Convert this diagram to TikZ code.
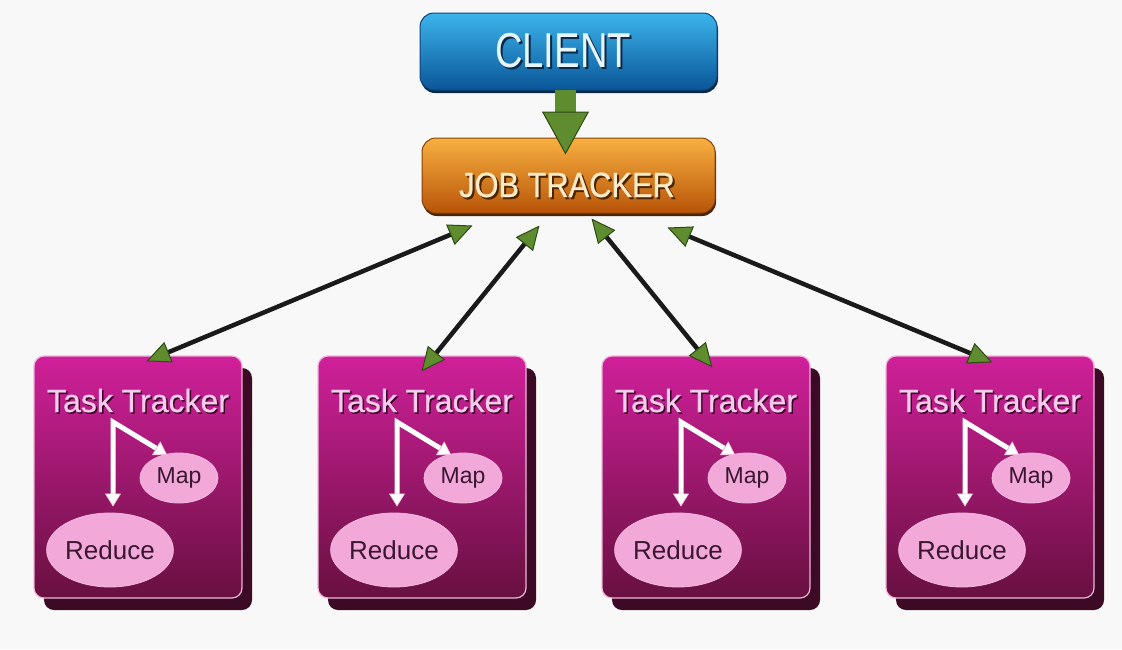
\documentclass[tikz,border=0pt]{standalone}
\usepackage{fontspec}
\setmainfont{Liberation Sans}
\newfontfamily\heavysans[FakeBold=0.7]{Liberation Sans}
\usepackage{graphicx}
\usetikzlibrary{arrows.meta,calc,shapes.geometric,shadows}

\definecolor{bg}{HTML}{F8F8F8}
\definecolor{clTop}{HTML}{3CB4EC}
\definecolor{clMid}{HTML}{1888D2}
\definecolor{clBot}{HTML}{0A5698}
\definecolor{clEdge}{HTML}{0B4478}
\definecolor{clShadow}{HTML}{0A2848}
\definecolor{clText}{HTML}{E6F4FB}
\definecolor{jtTop}{HTML}{F8B040}
\definecolor{jtMid}{HTML}{E88820}
\definecolor{jtBot}{HTML}{B85408}
\definecolor{jtEdge}{HTML}{8A4206}
\definecolor{jtShadow}{HTML}{4A2404}
\definecolor{jtText}{HTML}{FCEBC8}
\definecolor{ttTop}{HTML}{D0209A}
\definecolor{ttMid}{HTML}{A31870}
\definecolor{ttBot}{HTML}{681040}
\definecolor{ttRim}{HTML}{F0B4DA}
\definecolor{ttShadow}{HTML}{3C0A24}
\definecolor{ttText}{HTML}{F8CAEC}
\definecolor{txtShade}{HTML}{3A0626}
\definecolor{ovFill}{HTML}{F2A8D8}
\definecolor{ovText}{HTML}{3A1630}
\definecolor{grn}{HTML}{5E8C2E}
\definecolor{grnDark}{HTML}{2C4A14}
\definecolor{wire}{HTML}{1A1A1A}

\tikzset{
  clientbox/.style={rounded corners=14pt, minimum width=297pt, minimum height=77pt,
    top color=clTop, middle color=clMid, bottom color=clBot, draw=clEdge, line width=1pt,
    drop shadow={shadow xshift=1pt, shadow yshift=-3pt, fill=clShadow, opacity=1}},
  jobbox/.style={rounded corners=14pt, minimum width=293pt, minimum height=75pt,
    top color=jtTop, middle color=jtMid, bottom color=jtBot, draw=jtEdge, line width=1pt,
    drop shadow={shadow xshift=1pt, shadow yshift=-3pt, fill=jtShadow, opacity=1}},
  taskbox/.style={rounded corners=10pt, minimum width=208pt, minimum height=242pt,
    top color=ttTop, middle color=ttMid, bottom color=ttBot, draw=ttRim, line width=1.2pt,
    drop shadow={shadow xshift=10pt, shadow yshift=-12pt, fill=ttShadow, opacity=1}},
  lbl/.style={inner sep=0pt, anchor=base},
  oval/.style={ellipse, fill=ovFill, draw=ovFill!80!white, line width=0.8pt,
    inner sep=0pt, text=ovText},
  conn/.style={draw=wire, line width=4.5pt,
    {Triangle[length=24pt,width=22pt,line width=1pt,color=grnDark,fill=grn]}-{Triangle[length=24pt,width=22pt,line width=1pt,color=grnDark,fill=grn]}},
  bigarrow/.style={draw=grn, line width=21pt,
    -{Triangle[length=43pt,width=47pt,line width=1pt,color=grnDark,fill=grn]}},
  whitearrow/.style={draw=white, line width=5pt, line join=miter,
    {Triangle[length=13pt,width=16pt,line width=0.6pt,color=ttRim,fill=white]}-{Triangle[length=13pt,width=16pt,line width=0.6pt,color=ttRim,fill=white]}}
}

\begin{document}
\begin{tikzpicture}[x=1pt,y=-1pt]
  \useasboundingbox (0,0) rectangle (1122,649);
  \fill[bg] (0,0) rectangle (1122,649);

  % top boxes
  \node[clientbox] (cl) at (568.5,51.5) {};
  \node[lbl, text=clShadow] (clts) at (565,69)
    {\fontsize{49}{50}\selectfont\scalebox{0.78}[1]{CLIENT}};
  \node[lbl, text=clText] (clt) at (563,67)
    {\fontsize{49}{50}\selectfont\scalebox{0.78}[1]{CLIENT}};

  \node[jobbox] (jt) at (568.5,175.5) {};
  \node[lbl, text=jtShadow] (jtts) at (569,199)
    {\heavysans\fontsize{35}{36}\selectfont\scalebox{0.88}[1]{JOB TRACKER}};
  \node[lbl, text=jtText] (jtt) at (567,197)
    {\heavysans\fontsize{35}{36}\selectfont\scalebox{0.88}[1]{JOB TRACKER}};

  % client -> job tracker
  \draw[bigarrow] ($(cl.south)+(-3,-1)$) -- ($(jt.north)+(-3,17)$);

  % task tracker boxes with their map / reduce steps
  \foreach \i/\L in {1/34,2/318,3/602,4/886}{
    \node[taskbox] (tt\i) at ({\L+104},477) {};
    \node[lbl, text=txtShade] (tts\i) at ({\L+105.5},413.5)
      {\heavysans\fontsize{32}{34}\selectfont Task Tracker};
    \node[lbl, text=ttText] (ttt\i) at ({\L+104},412)
      {\heavysans\fontsize{32}{34}\selectfont Task Tracker};
    \node[oval, minimum width=78pt, minimum height=50pt] (m\i) at ({\L+145},478)
      {\fontsize{23}{24}\selectfont Map};
    \node[oval, minimum width=112pt, minimum height=74pt] (r\i) at ({\L+76},550)
      {\fontsize{26}{28}\selectfont Reduce};
    \coordinate (f\i) at ({\L+79},422);
    \draw[whitearrow] ($(r\i.north)+(3,-6)$) -- (f\i) -- ($(m\i.118)+(1,1)$);
  }

  % job tracker <-> task trackers
  \coordinate (j1) at ($(jt.south west)+(51,12)$);
  \coordinate (j2) at ($(jt.south west)+(118,12)$);
  \coordinate (j3) at ($(jt.south west)+(170,5)$);
  \coordinate (j4) at ($(jt.south west)+(246,14)$);
  \coordinate (t1) at ($(tt1.north west)+(113,6)$);
  \coordinate (t2) at ($(tt2.north west)+(104,16)$);
  \coordinate (t3) at ($(tt3.north west)+(111,12)$);
  \coordinate (t4) at ($(tt4.north west)+(107,7)$);
  \foreach \k in {1,2,3,4}{
    \draw[conn] (j\k) -- (t\k);
  }
\end{tikzpicture}
\end{document}
